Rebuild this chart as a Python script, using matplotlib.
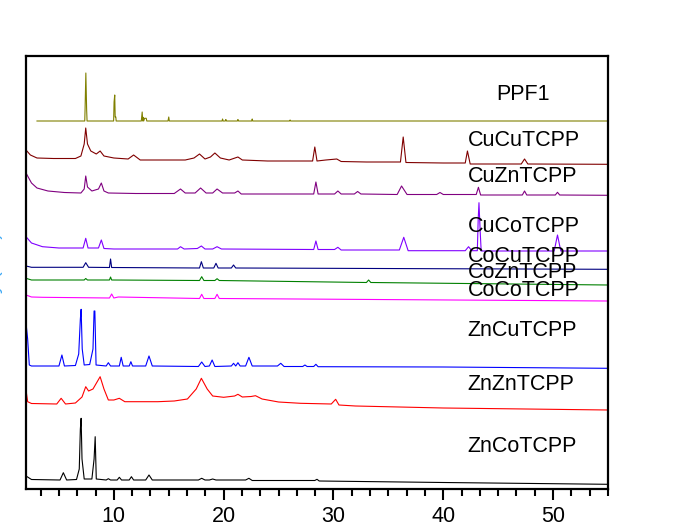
import matplotlib
matplotlib.use("Agg")
import matplotlib.pyplot as plt
from matplotlib.ticker import MultipleLocator

# XRD patterns, offset vertically (2theta in degrees, intensity in a.u. incl. offset)
ppf1_x = [3.0, 7.35, 7.38, 7.45, 7.52, 7.56, 9.98, 10.02, 10.08, 10.12, 10.18, 10.21,
          12.5, 12.58, 12.63, 12.67, 12.72, 12.8, 12.95, 13.0, 14.93, 15.0, 15.05,
          19.85, 19.9, 19.95, 20.15, 20.2, 20.25, 21.25, 21.3, 21.35, 22.55, 22.6, 22.65,
          26.0, 26.05, 26.1, 55.0]
ppf1_y = [368, 368, 380, 416, 380, 368, 368, 387, 394, 372, 372, 368,
          368, 377, 368, 371.7, 368, 370.7, 370.7, 368, 368, 372, 368,
          368, 370, 368, 368, 369.5, 368, 368, 369.5, 368, 368, 370, 368,
          368, 369, 368, 368]

cucu_x = [2.0, 2.4, 3.0, 4.5, 6.5, 7.0, 7.3, 7.44, 7.6, 7.9, 8.4, 8.75, 9.1, 10.0, 11.3, 11.8,
          12.4, 14.0, 16.5, 17.3, 17.8, 18.3, 18.8, 19.2, 19.7, 20.5, 21.3, 21.7, 24.0,
          28.1, 28.3, 28.5, 29.3, 30.3, 30.7, 33.0, 36.1, 36.35, 36.6, 40.0, 42.0, 42.2,
          42.45, 47.1, 47.4, 47.7, 55.0]
cucu_y = [339, 334, 331, 330.5, 330.5, 333, 345, 361, 345, 338, 335, 338, 333, 331, 330, 334,
          329, 329, 329, 331, 335, 330, 332, 336, 331, 329, 332, 329, 328,
          328, 342, 328, 329, 330, 327.5, 327, 327, 352, 326.5, 326, 326, 338,
          325, 325, 330, 325, 324.7]

cuzn_x = [2.0, 2.5, 3.0, 4.0, 5.5, 7.0, 7.3, 7.44, 7.6, 8.0, 8.6, 8.86, 9.1, 9.5, 12.0, 15.5,
          16.07, 16.5, 17.4, 17.9, 18.4, 19.0, 19.4, 19.9, 21.0, 21.3, 21.6, 28.2, 28.4,
          28.6, 30.1, 30.4, 30.7, 31.9, 32.2, 32.5, 35.8, 36.2, 36.7, 39.4, 39.7, 40.0,
          43.0, 43.2, 43.4, 47.2, 47.4, 47.6, 50.2, 50.4, 50.6, 55.0]
cuzn_y = [316, 306, 301, 298, 296.5, 296, 300, 313, 302, 298, 300, 306, 298, 296, 295.5, 295.5,
          300, 296, 296, 301, 296, 296, 300, 296, 296, 298, 295, 295, 307,
          295, 295, 298, 295, 295, 297.5, 295, 294.5, 303, 294.5, 294.5, 296.5, 294.5,
          294.5, 301.7, 294, 294, 298, 294, 294, 296.7, 294, 293.7]

cuco_x = [2.0, 2.5, 3.5, 5.0, 7.2, 7.44, 7.65, 8.6, 8.86, 9.1, 10.0, 15.8, 16.07, 16.4, 17.6,
          17.97, 18.3, 19.0, 19.4, 19.8, 28.2, 28.4, 28.6, 30.1, 30.4, 30.7, 36.0, 36.4,
          36.8, 42.0, 42.3, 42.6, 43.1, 43.18, 43.25, 43.35, 43.45, 50.1, 50.4, 50.7, 55.0]
cuco_y = [252.3, 246, 242.3, 241, 241, 250.7, 241, 241, 249, 240.5, 240, 240, 242.3, 240, 240.5,
          243, 240, 240, 242.3, 240, 239.5, 248, 239.5, 239.5, 241.7, 239, 239, 251.7,
          238.3, 238.3, 242.3, 238.3, 238.3, 270, 286.3, 260, 238, 238, 254, 238, 238]

cocu_x = [2.0, 2.5, 7.2, 7.44, 7.7, 9.6, 9.7, 9.8, 17.8, 17.97, 18.15, 19.1, 19.3, 19.5,
          20.7, 20.9, 21.1, 55.0]
cocu_y = [223, 221.7, 221.7, 226.3, 221.7, 221.5, 230, 221.5, 221, 227.3, 221, 221, 225.7, 221,
          221, 224, 221, 219.7]

cozn_x = [2.0, 2.5, 7.3, 7.44, 7.6, 9.6, 9.7, 9.8, 17.8, 18.0, 18.2, 19.2, 19.4, 19.6,
          33.0, 33.2, 33.4, 55.0]
cozn_y = [210.7, 209, 209, 210.5, 209, 209, 212, 209, 208.5, 212.3, 208.5, 208.5, 210.3, 208.5,
          206.5, 209, 206.5, 204]

coco_x = [2.0, 2.5, 3.5, 9.6, 9.8, 10.0, 10.4, 17.8, 18.0, 18.2, 19.2, 19.4, 19.6, 55.0]
coco_y = [194, 192, 191.7, 191, 195, 191, 192, 190.5, 194.7, 190.5, 190.5, 194.7, 190.5, 188]

zncu_x = [2.0, 2.15, 2.3, 2.5, 5.0, 5.27, 5.5, 6.5, 6.8, 6.95, 7.02, 7.12, 7.3, 7.8, 8.1, 8.2,
          8.27, 8.38, 9.3, 9.5, 9.7, 10.5, 10.67, 10.85, 11.4, 11.55, 11.7, 12.9, 13.2, 13.5,
          17.7, 18.0, 18.3, 18.7, 18.95, 19.2, 20.7, 20.9, 21.1, 21.3, 21.5, 22.0, 22.3, 22.6,
          24.9, 25.2, 25.5, 27.2, 27.4, 27.6, 28.2, 28.4, 28.6, 40.0, 55.0]
zncu_y = [166, 150, 124, 123, 123, 134, 123, 123.5, 135, 170, 179.7, 140, 124, 124.5, 140, 178,
          178, 124, 123, 126.3, 123, 123, 131.7, 123, 123, 127.3, 123, 123, 133, 123,
          122.5, 127, 122.5, 123, 129, 122.5, 123, 125.7, 123, 126.3, 123, 123, 131.7, 123,
          123, 125.7, 122.5, 122.5, 124, 122.5, 122.5, 124.7, 122.3, 122, 120.7]

znzn_x = [2.0, 2.15, 2.5, 4.8, 5.2, 5.6, 6.5, 7.1, 7.44, 7.7, 8.1, 8.75, 9.1, 9.5, 10.0, 10.5,
          11.0, 14.0, 15.5, 16.7, 17.5, 17.97, 18.5, 19.0, 20.0, 21.0, 21.3, 21.7, 22.5, 22.9,
          23.5, 25.0, 27.0, 29.8, 30.2, 30.5, 32.0, 40.0, 55.0]
znzn_y = [99, 87.3, 85.5, 85, 90.7, 85, 86, 92, 102.3, 98, 100, 112.3, 100, 89, 89, 90.7,
          87.3, 87.3, 88, 90, 100, 110.7, 100, 93, 91.7, 93, 94.7, 92, 92.5, 93.3,
          90, 87, 85.7, 85, 89.7, 84, 83, 81, 79]

znco_x = [2.0, 2.5, 5.1, 5.4, 5.7, 6.6, 6.85, 6.95, 7.02, 7.1, 7.3, 8.0, 8.2, 8.3, 8.4, 9.3,
          9.5, 9.7, 10.3, 10.5, 10.7, 11.4, 11.6, 11.8, 12.9, 13.2, 13.5, 17.7, 18.0, 18.3,
          18.7, 19.0, 19.3, 22.0, 22.3, 22.6, 28.3, 28.5, 28.7, 40.0, 55.0]
znco_y = [13, 9.5, 9, 16.3, 9, 9.5, 20, 60, 70.7, 30, 10, 10, 30, 52.3, 10, 9,
          10.3, 9, 9, 11.7, 9, 9, 12.3, 9, 9, 14, 9, 9, 10.7, 9,
          9, 10, 9, 9, 10.7, 8.5, 8.5, 9.7, 8, 6.5, 4.7]

names = ["PPF1", "CuCuTCPP", "CuZnTCPP", "CuCoTCPP", "CoCuTCPP", "CoZnTCPP",
         "CoCoTCPP", "ZnCuTCPP", "ZnZnTCPP", "ZnCoTCPP"]
label_y = [394, 349, 312, 263, 233, 216, 199, 159, 104, 43]

series = [(ppf1_x, ppf1_y, "#808000"), (cucu_x, cucu_y, "#800000"),
          (cuzn_x, cuzn_y, "#800080"), (cuco_x, cuco_y, "#8000ff"),
          (cocu_x, cocu_y, "#000080"), (cozn_x, cozn_y, "#008000"),
          (coco_x, coco_y, "#ff00ff"), (zncu_x, zncu_y, "#0000ff"),
          (znzn_x, znzn_y, "#ff0000"), (znco_x, znco_y, "#000000")]

plt.rcParams['font.family'] = ['Liberation Sans', 'DejaVu Sans']

fig = plt.figure(figsize=(6.74, 5.26), dpi=100)
ax = fig.add_axes([26 / 674, 1 - 489 / 526, (608 - 26) / 674, (489 - 56) / 526])

for x, y, c in series:
    ax.plot(x, y, color=c, lw=0.8)

for i, (name, ly) in enumerate(zip(names, label_y)):
    lx = 44.8 if i == 0 else 42.2
    ax.text(lx, ly, name, fontsize=15.5, va='center', ha='left', color='black')

ax.set_xlim(2, 55)
ax.set_ylim(0, 433)
ax.xaxis.set_major_locator(MultipleLocator(10))
ax.xaxis.set_minor_locator(MultipleLocator(10 / 6))
ax.tick_params(axis='x', which='major', direction='out', length=8, width=1.5,
               labelsize=15.5, pad=4.5)
ax.tick_params(axis='x', which='minor', direction='out', length=5, width=1.5)
ax.set_yticks([])
for s in ax.spines.values():
    s.set_linewidth(1.6)

# y label mostly cut off at the left edge
fig.text(0.005, 0.44, "Intensity (a.u.)", rotation=90, ha='right', va='center',
         fontsize=14, color='#3fa9f5')

fig.savefig("out.png", dpi=100)
